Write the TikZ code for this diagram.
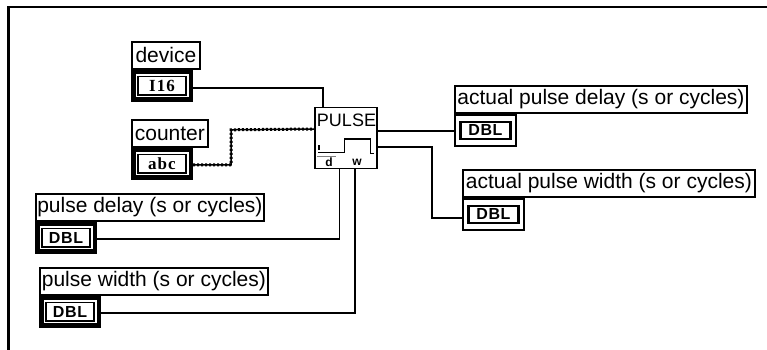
\documentclass[tikz,border=0pt]{standalone}
\usepackage{fontspec}
\setmainfont{Liberation Sans}
\newfontfamily\tagfont[LetterSpace=4]{Liberation Sans}
\newfontfamily\tagserif[LetterSpace=6]{Liberation Serif}
\usetikzlibrary{positioning}
\begin{document}
\begin{tikzpicture}[
x=1pt,y=-1pt,
lbl/.style={rectangle,draw,fill=white,line width=1.8pt,inner sep=0pt,anchor=north west,
minimum height=27pt,font=\fontsize{21}{21}\selectfont},
ctrl/.style={rectangle,draw,fill=white,line width=4.5pt,inner sep=0pt,
minimum width=57.5pt,minimum height=27.5pt,anchor=north west},
ind/.style={rectangle,draw,fill=white,line width=1.8pt,inner sep=0pt,
minimum width=61pt,minimum height=31pt,anchor=north west},
ctrltag/.style={rectangle,draw,line width=1.8pt,inner sep=0pt,
minimum width=48.5pt,minimum height=18.5pt,font=\fontsize{16}{16}\bfseries\tagfont},
indtag/.style={rectangle,draw,line width=2.2pt,inner sep=0pt,
minimum width=50pt,minimum height=17pt,font=\fontsize{16}{16}\bfseries\tagfont},
wire/.style={line width=1.8pt},
strwire/.style={line width=1.5pt,preaction={draw,line width=3pt,dash pattern=on 2pt off 2pt}}
]
\useasboundingbox (0,0) rectangle (767,350);
\fill[white] (0,0) rectangle (767,350);
% frame
\draw[line width=2.5pt] (8.5,350) -- (8.5,7) -- (767,7);
% inputs
\node[lbl,minimum width=68pt] (devlbl) at (131,41) {device};
\node[ctrl,below=0pt of devlbl.south west,anchor=north west] (dev) {};
\node[ctrltag,font=\fontsize{17}{17}\bfseries\tagserif] (devtag) at (dev.center) {I16};
\node[lbl,minimum width=76pt] (cntlbl) at (131,119) {counter};
\node[ctrl,below=0pt of cntlbl.south west,anchor=north west] (cnt) {};
\node[ctrltag,font=\fontsize{17}{17}\bfseries\tagserif] (cnttag) at (cnt.center) {abc};
\node[lbl,minimum width=228pt] (dlylbl) at (35,193) {pulse delay (s or cycles)};
\node[ctrl,below=0pt of dlylbl.south west,anchor=north west] (dly) {};
\node[ctrltag] (dlytag) at (dly.center) {DBL};
\node[lbl,minimum width=228pt] (widlbl) at (39,267) {pulse width (s or cycles)};
\node[ctrl,below=0pt of widlbl.south west,anchor=north west] (wid) {};
\node[ctrltag] (widtag) at (wid.center) {DBL};
% outputs
\node[lbl,minimum width=292pt] (adlylbl) at (454,85) {actual pulse delay (s or cycles)};
\node[ind,below=0pt of adlylbl.south west,anchor=north west] (adly) {};
\node[indtag] (adlytag) at (adly.center) {DBL};
\node[lbl,minimum width=292pt] (awidlbl) at (462,169) {actual pulse width (s or cycles)};
\node[ind,below=0pt of awidlbl.south west,anchor=north west] (awid) {};
\node[indtag] (awidtag) at (awid.center) {DBL};
% vi
\node[rectangle,draw,fill=white,line width=1.8pt,minimum width=62pt,minimum height=61pt,inner sep=0pt] (pulse) at (346,138) {};
\node[inner sep=0pt,font=\fontsize{18}{18}\selectfont] (pulsetxt) at (346.5,120) {PULSE};
\draw[line width=1.8pt] (318,152.5) -- (344.5,152.5) -- (344.5,139) -- (370.5,139) -- (370.5,153.5) -- (373.5,153.5);
\draw[line width=1.8pt] (319,145) -- (319,150);
\draw[line width=1pt,black!50] (317,156) -- (336,156);
\node[inner sep=0pt,font=\fontsize{12}{12}\bfseries] (dtxt) at (329,162) {d};
\node[inner sep=0pt,font=\fontsize{12}{12}\bfseries] (wtxt) at (357,162) {w};
% wires
\coordinate (adlyin) at ([yshift=-1pt]adly.west);
\coordinate (awidin) at ([yshift=-3.5pt]awid.west);
\draw[wire] ([yshift=-2pt]dev.east) -| ([xshift=-23pt]pulse.north);
\draw[strwire] ([yshift=-1pt]cnt.east) -- ++(38,0) -- ++(0,-35) -- ([yshift=9pt]pulse.west);
\draw[wire] ([yshift=-1pt]dly.east) -| ([xshift=-6.5pt]pulse.south);
\draw[wire] ([yshift=-1.5pt]wid.east) -| ([xshift=9pt]pulse.south);
\draw[wire] (adlyin) -- (adlyin -| pulse.east);
\draw[wire] (awidin) -- ++(-30,0) |- ([yshift=-9pt]pulse.east);
\end{tikzpicture}
\end{document}
